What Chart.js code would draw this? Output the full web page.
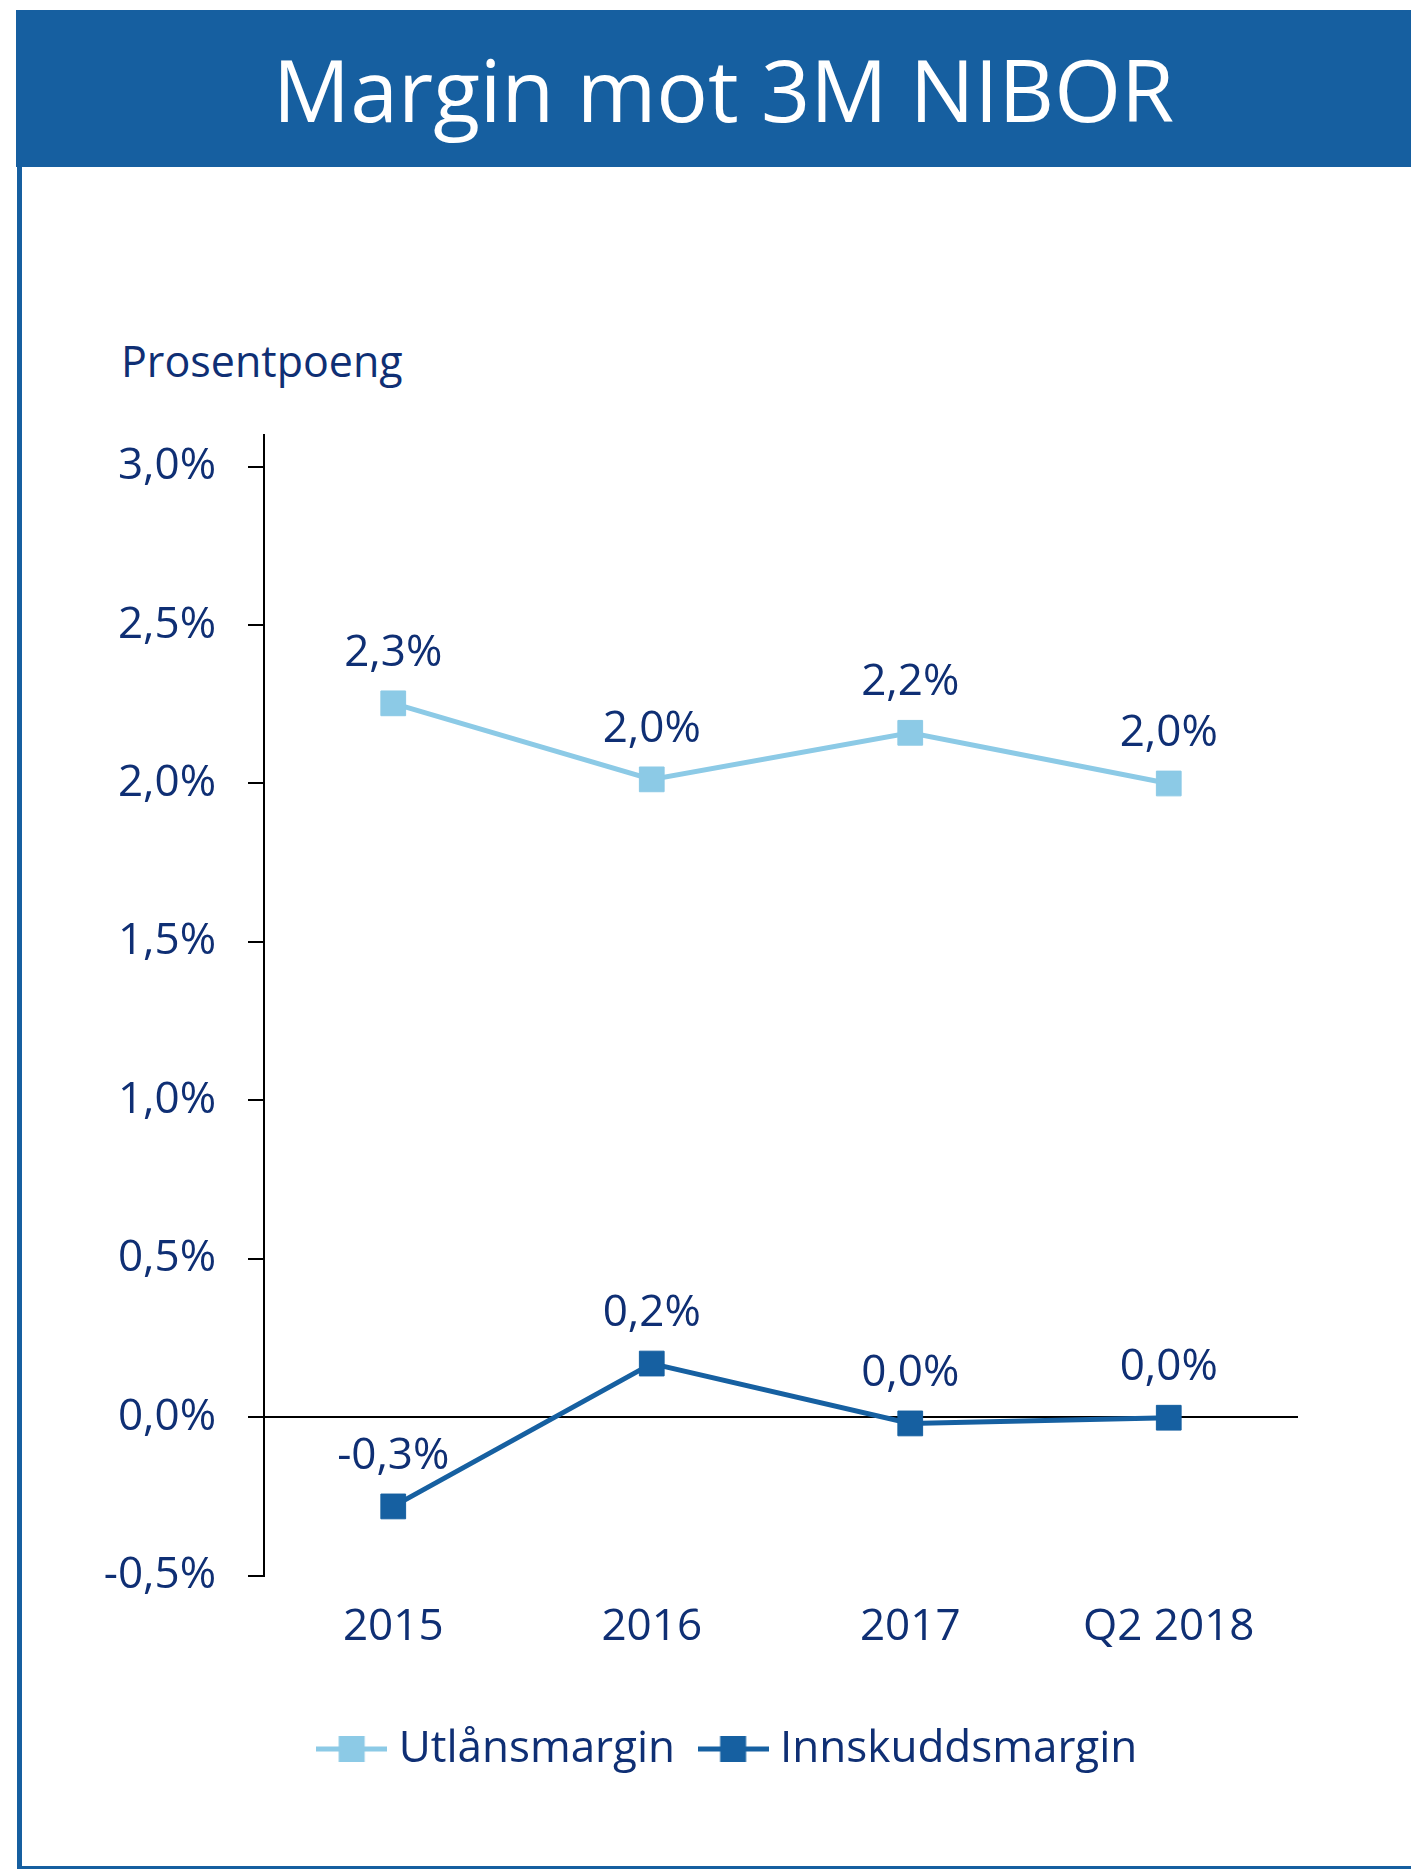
<!DOCTYPE html>
<html>
<head>
<meta charset="utf-8">
<script src="https://cdn.jsdelivr.net/npm/chart.js@4.4.1/dist/chart.umd.min.js"></script>
<style>
  html, body { margin: 0; padding: 0; background: #fff; }
  body { width: 1411px; height: 1869px; position: relative; overflow: hidden; font-family: "Open Sans", sans-serif; }
  #band { position: absolute; left: 16px; top: 10px; width: 1395px; height: 157px; background: #165fa0;
          color: #fff; font-size: 86px; line-height: 157px; text-align: center; padding-left: 20px; box-sizing: border-box; white-space: nowrap; }
  #lborder { position: absolute; left: 17px; top: 167px; width: 5px; height: 1702px; background: #165fa0; }
  #bborder { position: absolute; left: 17px; top: 1866px; width: 1394px; height: 3px; background: #165fa0; }
  #unit { position: absolute; left: 121px; top: 331px; font-size: 43px; color: #0f2f74; white-space: nowrap; }
  #wrap { position: absolute; left: 0; top: 0; width: 1411px; height: 1869px; }
</style>
</head>
<body>
<div id="band">Margin mot 3M NIBOR</div>
<div id="lborder"></div>
<div id="bborder"></div>
<div id="unit">Prosentpoeng</div>
<div id="wrap"><canvas id="c" width="1411" height="1869"></canvas></div>
<script>
const categories = ["2015", "2016", "2017", "Q2 2018"];
const utlansmargin = [2.253, 2.013, 2.16, 2.0];
const innskuddsmargin = [-0.282, 0.169, -0.02, -0.002];
const seriesNames = ["Utlånsmargin", "Innskuddsmargin"];
const yTicks = [-0.5, 0, 0.5, 1.0, 1.5, 2.0, 2.5, 3.0];

const NAVY = "#0f2f74";
const LIGHT = "#8ccae6";
const DARK = "#1660a1";
const FONT = "'Open Sans', sans-serif";
const PAD_LEFT = 90;

function fmt(v) {
  let s = v.toFixed(1);
  if (parseFloat(s) === 0) s = "0.0";
  return s.replace(".", ",") + "%";
}

function legendIcon(color) {
  const c = document.createElement("canvas");
  c.width = 71; c.height = 26;
  const g = c.getContext("2d");
  g.fillStyle = color;
  g.fillRect(0, 10.5, 71, 5);
  g.fillRect(22.5, 0, 26, 26);
  return c;
}

const dataLabels = {
  id: "dataLabels",
  afterDatasetsDraw(chart) {
    const ctx = chart.ctx;
    ctx.save();
    ctx.font = "44px " + FONT;
    ctx.fillStyle = NAVY;
    ctx.textAlign = "center";
    ctx.textBaseline = "middle";
    chart.data.datasets.forEach((ds, di) => {
      const meta = chart.getDatasetMeta(di);
      meta.data.forEach((pt, i) => {
        ctx.fillText(fmt(ds.data[i]), pt.x, pt.y - 50);
      });
    });
    ctx.restore();
  }
};

// centre the legend under the plot frame rather than under the padded box
const legendShift = {
  id: "legendShift",
  afterLayout(chart) {
    const d = 38;
    if (chart.legend) { chart.legend.left += d; chart.legend.right += d; }
  }
};

new Chart(document.getElementById("c"), {
  type: "line",
  data: {
    labels: categories,
    datasets: [
      { label: seriesNames[0], data: utlansmargin, borderColor: LIGHT, backgroundColor: LIGHT,
        borderWidth: 5, pointStyle: "rect", pointRadius: 17.5, pointBorderWidth: 1,
        pointBorderColor: LIGHT, pointBackgroundColor: LIGHT, tension: 0 },
      { label: seriesNames[1], data: innskuddsmargin, borderColor: DARK, backgroundColor: DARK,
        borderWidth: 5, pointStyle: "rect", pointRadius: 17.5, pointBorderWidth: 1,
        pointBorderColor: DARK, pointBackgroundColor: DARK, tension: 0 }
    ]
  },
  options: {
    responsive: false,
    animation: false,
    events: [],
    layout: { padding: { left: PAD_LEFT, right: 113, top: 435, bottom: 88 } },
    scales: {
      x: {
        offset: true,
        grid: { display: false, drawTicks: false },
        border: { display: false },
        ticks: { color: NAVY, font: { family: FONT, size: 44 }, padding: 26 },
        afterFit(scale) { scale.height = 118.5; }
      },
      y: {
        min: -0.5,
        max: 3.1,
        afterBuildTicks(scale) { scale.ticks = yTicks.map(v => ({ value: v })); },
        ticks: { color: NAVY, font: { family: FONT, size: 44 }, padding: 32,
                 callback: (v) => Number(v).toFixed(1).replace(".", ",") + "%" },
        grid: {
          color: (c) => (c.tick && c.tick.value === 0) ? "#000" : "rgba(0,0,0,0)",
          tickColor: "#000",
          tickLength: 16,
          lineWidth: 2
        },
        border: { display: true, color: "#000", width: 2 },
        afterFit(scale) { scale.width = 264 - PAD_LEFT; }
      }
    },
    plugins: {
      title: { display: false },
      tooltip: { enabled: false },
      legend: {
        display: true,
        position: "bottom",
        labels: {
          usePointStyle: true,
          pointStyleWidth: 50,
          padding: 33,
          color: NAVY,
          font: { family: FONT, size: 44 },
          generateLabels(chart) {
            return chart.data.datasets.map((ds, i) => ({
              text: ds.label,
              fillStyle: ds.borderColor,
              strokeStyle: ds.borderColor,
              lineWidth: 0,
              pointStyle: legendIcon(ds.borderColor),
              fontColor: NAVY,
              hidden: false,
              datasetIndex: i
            }));
          }
        }
      }
    }
  },
  plugins: [dataLabels, legendShift]
});
</script>
</body>
</html>
